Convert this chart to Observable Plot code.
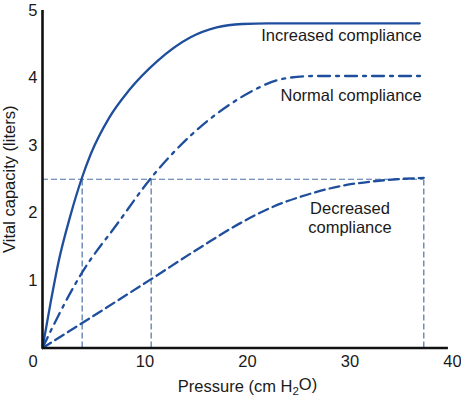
<!DOCTYPE html>
<html>
<head>
<meta charset="utf-8">
<script src="https://cdn.jsdelivr.net/npm/d3@7"></script>
<script src="https://cdn.jsdelivr.net/npm/@observablehq/plot@0.6"></script>
<style>
  html, body { margin: 0; padding: 0; background: #fff; }
</style>
</head>
<body>
<div id="chart"></div>
<script>
// Pressure (cm H2O) and vital capacity (liters)
const increasedP  = [0, 0.8, 1.6, 2.7, 3.8, 4.7, 6.5, 8.4, 11.2, 14.4, 17, 19.5, 22, 36.8];
const increasedVC = [0, 0.68, 1.3, 1.95, 2.5, 2.87, 3.41, 3.81, 4.25, 4.6, 4.75, 4.8, 4.81, 4.81];

const normalP  = [0, 0.6, 3.87, 7.3, 10.6, 14.4, 18.3, 21, 23.2, 26.4, 37.2];
const normalVC = [0, 0.19, 1.12, 1.84, 2.52, 3.14, 3.61, 3.85, 3.98, 4.03, 4.03];

const decreasedP  = [0, 3.87, 10.6, 15.4, 19.3, 22.6, 25.8, 29.1, 32.3, 34.5, 37.2];
const decreasedVC = [0, 0.37, 1.02, 1.49, 1.85, 2.1, 2.27, 2.4, 2.47, 2.5, 2.52];

const guideP = [3.87, 10.6, 37.2];
const guideVC = 2.5;

const xTicks = [10, 20, 30, 40];
const yTicks = [1, 2, 3, 4, 5];

const labelText = ["Increased compliance", "Normal compliance", "Decreased\ncompliance"];
const labelP = [37.0, 37.0, 30.0];
const labelVC = [4.63, 3.74, 1.93];

const xTitle = "Pressure (cm H2O)";
const yTitle = "Vital capacity (liters)";

const toRows = (P, V) => P.map((p, i) => ({p, v: V[i]}));
const curveColor = "#1f4f9c";
const guideColor = "#4d72a8";
const textColor = "#1a1a1a";
const intFmt = d3.format("d");

const chart = Plot.plot({
  width: 461,
  height: 399,
  marginLeft: 42,
  marginRight: 9,
  marginTop: 10,
  marginBottom: 51.5,
  x: {domain: [0, 40]},
  y: {domain: [0, 5]},
  style: {fontFamily: "'Liberation Sans', Arial, Helvetica, sans-serif", fontSize: "16.5px", color: textColor, background: "#fff"},
  marks: [
    // guide lines
    Plot.ruleY([guideVC], {x1: 0, x2: guideP[guideP.length - 1], stroke: guideColor, strokeWidth: 1.2, strokeDasharray: "6,3"}),
    Plot.ruleX(guideP, {y1: 0, y2: guideVC, stroke: guideColor, strokeWidth: 1.2, strokeDasharray: "6,3"}),
    // curves
    Plot.line(toRows(increasedP, increasedVC), {x: "p", y: "v", stroke: curveColor, strokeWidth: 2.3, curve: "monotone-x"}),
    Plot.line(toRows(normalP, normalVC), {x: "p", y: "v", stroke: curveColor, strokeWidth: 2.3, curve: "monotone-x", strokeDasharray: "12,6,3,6"}),
    Plot.line(toRows(decreasedP, decreasedVC), {x: "p", y: "v", stroke: curveColor, strokeWidth: 2.3, curve: "monotone-x", strokeDasharray: "10,5"}),
    // axis lines
    Plot.ruleX([0], {y1: 0, y2: 5, stroke: "#111", strokeWidth: 2.6}),
    Plot.ruleY([0], {x1: 0, x2: 39.6, stroke: "#111", strokeWidth: 2.6}),
    // axes
    Plot.axisY({ticks: yTicks, tickFormat: intFmt, tickSize: 0, tickPadding: 5, label: null, fontSize: 16.5, fill: textColor}),
    Plot.axisX({ticks: xTicks, tickFormat: intFmt, tickSize: 0, tickPadding: 7, label: null, fontSize: 16.5, fill: textColor}),
    Plot.axisX({ticks: [0], tickFormat: intFmt, tickSize: 0, tickPadding: 7, dx: -9.5, label: null, fontSize: 16.5, fill: textColor}),
    // curve labels
    Plot.text(labelText.slice(0, 2), {x: (d, i) => labelP[i], y: (d, i) => labelVC[i], text: d => d, textAnchor: "end", fontSize: 16.5, fill: textColor}),
    Plot.text([labelText[2]], {x: labelP[2], y: labelVC[2], text: d => d, textAnchor: "middle", lineHeight: 1.15, fontSize: 16.5, fill: textColor}),
    // axis titles
    Plot.text([xTitle], {frameAnchor: "bottom", dy: 38.5, text: d => d, textAnchor: "middle", lineAnchor: "middle", fontSize: 16.5, fill: textColor}),
    Plot.text([yTitle], {frameAnchor: "left", dx: -33, rotate: -90, text: d => d, textAnchor: "middle", lineAnchor: "middle", fontSize: 16.5, fill: textColor})
  ]
});

document.getElementById("chart").appendChild(chart);

// subscript "2" in H2O
d3.select(chart).selectAll("text").each(function() {
  if (this.textContent === xTitle) {
    const t = d3.select(this);
    t.text(null);
    t.append("tspan").text("Pressure (cm H");
    t.append("tspan").attr("dy", "0.3em").attr("font-size", "11.5px").text("2");
    t.append("tspan").attr("dy", "-0.3em").text("O)");
  }
});
</script>
</body>
</html>
